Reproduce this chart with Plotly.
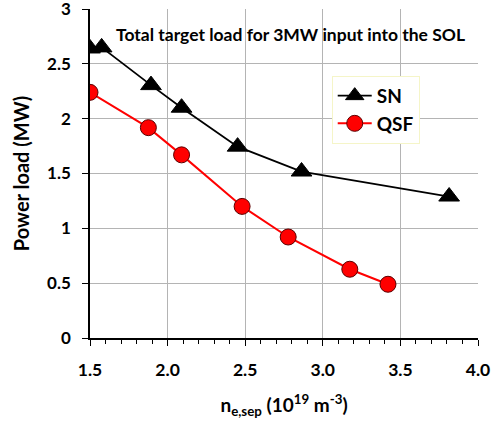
import plotly.graph_objects as go

# Separatrix density (1e19 m^-3) and total target power load (MW)
sn_density = [1.50, 1.575, 1.893, 2.09, 2.451, 2.863, 3.814]
sn_load = [2.64, 2.65, 2.306, 2.10, 1.745, 1.518, 1.29]

qsf_density = [1.50, 1.876, 2.09, 2.48, 2.777, 3.174, 3.42]
qsf_load = [2.24, 1.918, 1.67, 1.20, 0.921, 0.627, 0.49]

x_ticks = [1.5, 2.0, 2.5, 3.0, 3.5, 4.0]
y_ticks = [0, 0.5, 1, 1.5, 2, 2.5, 3]

FONT = "Lato"

fig = go.Figure()

fig.add_trace(go.Scatter(
    x=sn_density, y=sn_load, name="<b>SN</b>", mode="lines+markers",
    line=dict(color="black", width=1.8),
    marker=dict(symbol="triangle-up", size=18, color="black",
                line=dict(color="black", width=1)),
))
fig.add_trace(go.Scatter(
    x=qsf_density, y=qsf_load, name="<b>QSF</b>", mode="lines+markers",
    line=dict(color="#ff0000", width=2),
    marker=dict(symbol="circle", size=16, color="#ff0000",
                line=dict(color="#5a0000", width=1)),
))

fig.add_annotation(
    text="<b>Total target load for 3MW input into the SOL</b>",
    xref="paper", yref="paper", x=0.518, y=0.921,
    xanchor="center", yanchor="middle", showarrow=False,
    font=dict(family=FONT, size=17.5, color="black"),
)

fig.update_layout(
    width=491, height=428,
    margin=dict(l=90, r=13, t=9, b=90, autoexpand=False),
    paper_bgcolor="white", plot_bgcolor="white",
    font=dict(family=FONT, color="black"),
    showlegend=True,
    legend=dict(
        x=0.623, y=0.797, xanchor="left", yanchor="top",
        bgcolor="white", bordercolor="#f5f5c8", borderwidth=1,
        font=dict(family=FONT, size=19, color="black"),
        itemwidth=34, tracegroupgap=4,
    ),
)

fig.update_xaxes(
    range=[1.5, 4.0], tickvals=x_ticks,
    ticktext=[f"<b>{v:.1f}</b>" for v in x_ticks],
    tickfont=dict(family=FONT, size=17.5),
    ticks="outside", ticklen=6, tickcolor="black", tickwidth=1,
    ticklabelstandoff=9, ticklabeloverflow="allow", automargin=False,
    minor=dict(dtick=0.1, ticks="outside", ticklen=4, tickcolor="black",
               showgrid=False),
    showline=True, linecolor="black", linewidth=1.5,
    showgrid=True, gridcolor="#b4b4b4", gridwidth=1,
    zeroline=False,
    title=dict(text="<b>n<sub>e,sep</sub> (10<sup>19</sup> m<sup>-3</sup>)</b>",
               font=dict(family=FONT, size=19), standoff=20),
)

fig.update_yaxes(
    range=[0, 3], tickvals=y_ticks,
    ticktext=[f"<b>{v:g}</b>" for v in y_ticks],
    tickfont=dict(family=FONT, size=17),
    ticks="outside", ticklen=6, tickcolor="black", tickwidth=1,
    ticklabelstandoff=8, ticklabeloverflow="allow", automargin=False,
    showline=True, linecolor="black", linewidth=1.5,
    showgrid=True, gridcolor="#b4b4b4", gridwidth=1,
    zeroline=False,
    title=dict(text="<b>Power load (MW)</b>",
               font=dict(family=FONT, size=20), standoff=12),
)

fig.write_html("out.html")
